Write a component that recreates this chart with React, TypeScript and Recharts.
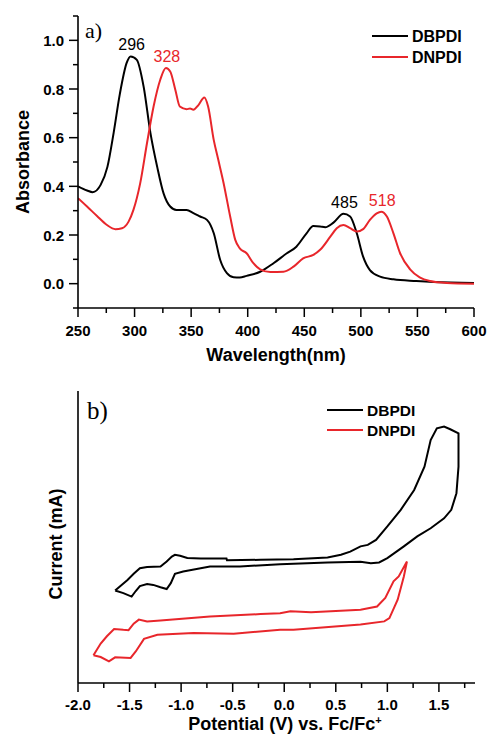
import React from "react";
import { LineChart, Line, XAxis, YAxis, ReferenceDot, Legend } from "recharts";

const FONT = '"Liberation Sans", Arial, Helvetica, sans-serif';
const SERIF = '"Liberation Serif", "Times New Roman", serif';
const BLACK = "#000000";
const RED = "#e8262b";

// ---- a) absorption spectra: [wavelength nm, absorbance]
const dbpdiAbsorption: [number, number][] = [
  [250, 0.4], [258, 0.383], [263, 0.376], [270, 0.406], [276, 0.48], [281.5, 0.62],
  [287, 0.78], [293, 0.907], [296.5, 0.934], [302, 0.92], [308, 0.81], [314, 0.62],
  [320, 0.48], [325.7, 0.37], [331.5, 0.317], [337, 0.303], [346, 0.303], [352, 0.29],
  [358, 0.276], [364, 0.262], [370, 0.207], [375.7, 0.097], [381.6, 0.043], [387.5, 0.026],
  [393, 0.025], [399, 0.032], [411, 0.049], [422.8, 0.084], [434.6, 0.125], [443, 0.152],
  [452, 0.207], [458, 0.237], [464, 0.235], [468.5, 0.232], [475.8, 0.251], [484.6, 0.287],
  [490.5, 0.276], [496.4, 0.207], [502, 0.111], [508, 0.056], [517, 0.029], [528.8, 0.018],
  [549, 0.011], [564, 0.007], [600, 0.003],
];

const dnpdiAbsorption: [number, number][] = [
  [250, 0.351], [258, 0.317], [266.8, 0.278], [275.6, 0.241], [283, 0.224], [288.9, 0.228],
  [294.7, 0.255], [299, 0.303], [305, 0.413], [311, 0.578], [316.8, 0.728], [322.7, 0.838],
  [327.7, 0.886], [331.5, 0.872], [336, 0.797], [340, 0.728], [346, 0.717], [349, 0.72],
  [352, 0.715], [356.6, 0.735], [361.6, 0.765], [365, 0.728], [370, 0.59], [374, 0.509],
  [378.7, 0.413], [384.5, 0.276], [389, 0.18], [393, 0.145], [399, 0.125], [405, 0.084],
  [411, 0.059], [420, 0.048], [431.6, 0.049], [440.5, 0.07], [449, 0.104], [458, 0.118],
  [464, 0.139], [473, 0.193], [478.7, 0.228], [484.6, 0.241], [490.5, 0.228], [496.4, 0.214],
  [502, 0.224], [508, 0.262], [514, 0.289], [518, 0.296], [523, 0.276], [528.8, 0.207],
  [534.7, 0.125], [543.5, 0.059], [552, 0.026], [561, 0.011], [576, 0.003], [600, 0.0],
];

const absPeaks = [
  { x: 296.5, y: 0.934, label: "296", color: BLACK },
  { x: 327.7, y: 0.886, label: "328", color: RED },
  { x: 484.6, y: 0.287, label: "485", color: BLACK },
  { x: 518, y: 0.296, label: "518", color: RED },
];

const wlMajor = [250, 300, 350, 400, 450, 500, 550, 600];
const wlMinor = [275, 325, 375, 425, 475, 525, 575];
const absMajor = [0, 0.2, 0.4, 0.6, 0.8, 1.0];
const absMinor = [-0.1, 0.1, 0.3, 0.5, 0.7, 0.9, 1.1];

// ---- b) cyclic voltammograms: [potential V, current (arb.)]
const dbpdiCV: [number, number][] = [
  [-1.64, 31.7], [-1.52, 35.3], [-1.46, 37.4], [-1.4, 39.3], [-1.33, 39.7], [-1.2, 39.9],
  [-1.14, 41.6], [-1.09, 43.3], [-1.06, 43.9], [-1.01, 43.6], [-0.94, 42.8], [-0.81, 42.6],
  [-0.56, 42.6], [-0.555, 42.0], [-0.23, 42.2], [0.09, 42.4], [0.42, 43.0], [0.55, 43.9],
  [0.64, 45.0], [0.74, 46.8], [0.81, 47.3], [0.89, 49.0], [1.0, 53.6], [1.13, 59.3],
  [1.26, 66.1], [1.36, 74.1], [1.42, 83.2], [1.48, 87.2], [1.55, 87.8], [1.61, 86.9],
  [1.69, 85.5], [1.69, 74.1], [1.67, 65.0], [1.62, 59.3], [1.55, 56.4], [1.42, 53.0],
  [1.29, 50.2], [1.16, 46.8], [1.0, 42.8], [0.92, 41.3], [0.84, 41.0], [0.74, 41.5],
  [0.42, 41.3], [-0.04, 40.7], [-0.43, 39.9], [-0.72, 39.9], [-0.98, 38.2], [-1.06, 37.4],
  [-1.1, 34.2], [-1.14, 32.2], [-1.2, 32.8], [-1.27, 33.6], [-1.33, 33.9], [-1.4, 33.2],
  [-1.44, 31.5], [-1.48, 29.6], [-1.56, 30.8], [-1.64, 31.7],
];

const dnpdiCV: [number, number][] = [
  [-1.85, 9.5], [-1.78, 13.5], [-1.72, 16.0], [-1.65, 18.5], [-1.56, 18.2], [-1.51, 18.1],
  [-1.46, 20.3], [-1.41, 21.7], [-1.33, 21.1], [-1.2, 21.4], [-0.72, 22.8], [-0.23, 23.6],
  [-0.04, 23.9], [0.06, 24.6], [0.26, 24.2], [0.74, 25.1], [0.9, 26.2], [0.98, 29.1],
  [1.06, 34.8], [1.11, 36.5], [1.19, 41.6], [1.16, 36.5], [1.1, 28.5], [1.02, 22.2],
  [0.97, 21.1], [0.74, 20.0], [0.09, 18.2], [-0.04, 18.2], [-0.49, 16.9], [-0.88, 17.1],
  [-1.23, 16.5], [-1.36, 15.1], [-1.44, 10.8], [-1.49, 8.6], [-1.64, 8.8], [-1.7, 7.4],
  [-1.78, 8.9], [-1.85, 9.5],
];

const vMajor = [-2.0, -1.5, -1.0, -0.5, 0.0, 0.5, 1.0, 1.5];
const vMinor = [-1.75, -1.25, -0.75, -0.25, 0.25, 0.75, 1.25, 1.75];

const toPts = (arr: [number, number][]) => arr.map(([x, y]) => ({ x, y }));

const AXIS = { stroke: BLACK, strokeWidth: 1.6 };

function xTick(major: number[], fmt: (v: number) => string, labelDy: number) {
  return (p: any) => {
    const isMajor = major.some((m) => Math.abs(m - p.payload.value) < 1e-6);
    return (
      <g>
        <line x1={p.x} x2={p.x} y1={p.y} y2={p.y + (isMajor ? 9 : 5)} stroke={BLACK} strokeWidth={1.5} />
        {isMajor && (
          <text x={p.x} y={p.y + labelDy} textAnchor="middle" fontFamily={FONT} fontWeight="bold" fontSize={15} fill={BLACK}>
            {fmt(p.payload.value)}
          </text>
        )}
      </g>
    );
  };
}

function yTick(major: number[], fmt: (v: number) => string) {
  return (p: any) => {
    const isMajor = major.some((m) => Math.abs(m - p.payload.value) < 1e-6);
    return (
      <g>
        <line x1={p.x} x2={p.x - (isMajor ? 9 : 5)} y1={p.y} y2={p.y} stroke={BLACK} strokeWidth={1.5} />
        {isMajor && (
          <text x={p.x - 14} y={p.y + 5.5} textAnchor="end" fontFamily={FONT} fontWeight="bold" fontSize={15} fill={BLACK}>
            {fmt(p.payload.value)}
          </text>
        )}
      </g>
    );
  };
}

function legendContent(gap: number, size: number) {
  return (props: any) => (
    <svg width={110} height={46} style={{ display: "block" }}>
      {(props.payload || []).map((it: any, i: number) => (
        <g key={it.value}>
          <line x1={0} x2={36} y1={10 + i * gap} y2={10 + i * gap} stroke={it.color} strokeWidth={2} />
          <text x={40} y={10 + i * gap + 5.5} fontFamily={FONT} fontWeight="bold" fontSize={size} fill={BLACK}>
            {it.value}
          </text>
        </g>
      ))}
    </svg>
  );
}

const title: React.CSSProperties = {
  position: "absolute",
  fontFamily: FONT,
  fontWeight: "bold",
  fontSize: 18,
  color: BLACK,
  whiteSpace: "nowrap",
  lineHeight: "18px",
};

function AbsorptionChart() {
  return (
    <LineChart width={488} height={370} margin={{ top: 16, right: 14, left: 18, bottom: 32 }}>
      <XAxis
        dataKey="x"
        type="number"
        domain={[250, 600]}
        allowDataOverflow
        ticks={[...wlMajor, ...wlMinor].sort((a, b) => a - b)}
        interval={0}
        height={30}
        tickSize={0}
        tickMargin={0}
        tickLine={false}
        axisLine={AXIS}
        tick={xTick(wlMajor, (v) => String(v), 28)}
      />
      <XAxis xAxisId="top" orientation="top" dataKey="x" type="number" domain={[250, 600]} height={0} tick={false} tickLine={false} axisLine={AXIS} />
      <YAxis
        type="number"
        domain={[-0.1, 1.1]}
        allowDataOverflow
        ticks={[...absMajor, ...absMinor].sort((a, b) => a - b)}
        interval={0}
        width={60}
        tickSize={0}
        tickMargin={0}
        tickLine={false}
        axisLine={AXIS}
        tick={yTick(absMajor, (v) => v.toFixed(1))}
      />
      <YAxis yAxisId="right" orientation="right" type="number" domain={[-0.1, 1.1]} width={0} tick={false} tickLine={false} axisLine={AXIS} />
      <Legend
        layout="vertical"
        align="center"
        verticalAlign="middle"
        wrapperStyle={{ left: 372, top: 25.5, width: 110 }}
        content={legendContent(21, 16)}
      />
      <Line data={toPts(dbpdiAbsorption)} dataKey="y" name="DBPDI" type="monotone" stroke={BLACK} strokeWidth={2} dot={false} activeDot={false} isAnimationActive={false} />
      <Line data={toPts(dnpdiAbsorption)} dataKey="y" name="DNPDI" type="monotone" stroke={RED} strokeWidth={2} dot={false} activeDot={false} isAnimationActive={false} />
      {absPeaks.map((pk) => (
        <ReferenceDot
          key={pk.label}
          x={pk.x}
          y={pk.y}
          r={0}
          shape={(p: any) => (
            <text x={p.cx + 1} y={p.cy - 6} textAnchor="middle" fontFamily={FONT} fontSize={16} fill={pk.color}>
              {pk.label}
            </text>
          )}
        />
      ))}
    </LineChart>
  );
}

function CVChart() {
  return (
    <LineChart width={488} height={365} margin={{ top: 21, right: 13, left: 18, bottom: 22 }}>
      <XAxis
        dataKey="x"
        type="number"
        domain={[-2, 1.85]}
        allowDataOverflow
        ticks={[...vMajor, ...vMinor].sort((a, b) => a - b)}
        interval={0}
        height={30}
        tickSize={0}
        tickMargin={0}
        tickLine={false}
        axisLine={AXIS}
        tick={xTick(vMajor, (v) => v.toFixed(1), 27)}
      />
      <XAxis xAxisId="top" orientation="top" dataKey="x" type="number" domain={[-2, 1.85]} height={0} tick={false} tickLine={false} axisLine={AXIS} />
      <YAxis type="number" domain={[0, 100]} allowDataOverflow width={60} tick={false} tickLine={false} axisLine={AXIS} />
      <YAxis yAxisId="right" orientation="right" type="number" domain={[0, 100]} width={0} tick={false} tickLine={false} axisLine={AXIS} />
      <Legend
        layout="vertical"
        align="center"
        verticalAlign="middle"
        wrapperStyle={{ left: 327, top: 30, width: 110 }}
        content={legendContent(20, 15.5)}
      />
      <Line data={toPts(dbpdiCV)} dataKey="y" name="DBPDI" type="linear" stroke={BLACK} strokeWidth={2} dot={false} activeDot={false} isAnimationActive={false} />
      <Line data={toPts(dnpdiCV)} dataKey="y" name="DNPDI" type="linear" stroke={RED} strokeWidth={2} dot={false} activeDot={false} isAnimationActive={false} />
    </LineChart>
  );
}

export default function App() {
  return (
    <div style={{ position: "absolute", left: 0, top: 0, width: 488, height: 735, background: "#fff", overflow: "hidden" }}>
      <div style={{ position: "absolute", left: 0, top: 0 }}>
        <AbsorptionChart />
      </div>
      <div style={{ position: "absolute", left: 0, top: 370 }}>
        <CVChart />
      </div>

      <div style={{ ...title, left: 276, top: 346, transform: "translateX(-50%)" }}>Wavelength(nm)</div>
      <div style={{ ...title, left: 22.5, top: 162, transform: "translate(-50%, -50%) rotate(-90deg)" }}>Absorbance</div>
      <div style={{ ...title, left: 56, top: 544, transform: "translate(-50%, -50%) rotate(-90deg)" }}>Current (mA)</div>
      <div style={{ ...title, left: 285, top: 715, transform: "translateX(-50%)" }}>
        Potential (V) vs. Fc/Fc<sup style={{ fontSize: 11, verticalAlign: "6px", lineHeight: 0 }}>+</sup>
      </div>

      <div style={{ position: "absolute", left: 85, top: 20, fontFamily: SERIF, fontSize: 22, lineHeight: "22px" }}>a)</div>
      <div style={{ position: "absolute", left: 87, top: 398, fontFamily: SERIF, fontSize: 25, lineHeight: "25px" }}>b)</div>
    </div>
  );
}
